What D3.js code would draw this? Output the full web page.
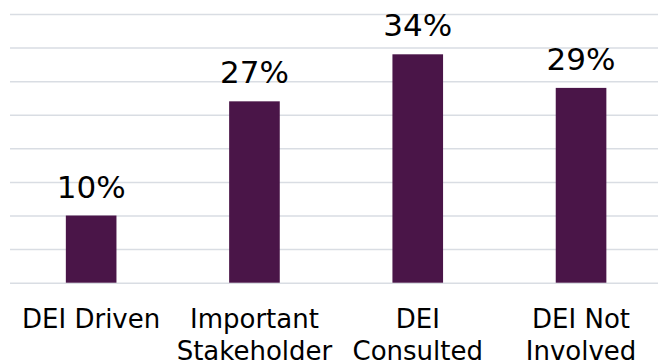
<!DOCTYPE html>
<html>
<head>
<meta charset="utf-8">
<script src="https://cdn.jsdelivr.net/npm/d3@7"></script>
<style>
  body { margin: 0; background: #fff; }
  svg text { font-family: "DejaVu Sans", Verdana, sans-serif; fill: #000; }
</style>
</head>
<body>
<svg id="chart" width="658" height="362"></svg>
<script>
// Chart data
const categories = ["DEI Driven", "Important Stakeholder", "DEI Consulted", "DEI Not Involved"];
const categoryLines = [["DEI Driven"], ["Important", "Stakeholder"], ["DEI", "Consulted"], ["DEI Not", "Involved"]];
const values = [10, 27, 34, 29];
const gridTicks = [0, 5, 10, 15, 20, 25, 30, 35, 40];

const svg = d3.select("#chart");
const width = +svg.attr("width");

const x = d3.scaleBand()
  .domain(categories)
  .range([9.5, 662.7])
  .paddingInner(0.69)
  .paddingOuter(0.345);

const y = d3.scaleLinear()
  .domain([0, 40])
  .range([282.7, 14]);

// Gridlines
const grid = svg.append("g")
  .attr("transform", "translate(10,0)")
  .call(d3.axisLeft(y).tickValues(gridTicks).tickSize(-(width - 10)).tickFormat(""));
grid.select(".domain").remove();
grid.selectAll("line")
  .attr("stroke", "#d9dde3")
  .attr("stroke-width", 1.5);

// Bars
svg.selectAll(".bar")
  .data(values)
  .enter()
  .append("rect")
  .attr("class", "bar")
  .attr("x", (d, i) => x(categories[i]))
  .attr("width", x.bandwidth())
  .attr("y", d => y(d))
  .attr("height", d => y(0) - y(d))
  .attr("fill", "#4a1548");

// Value labels
svg.selectAll(".val")
  .data(values)
  .enter()
  .append("text")
  .attr("class", "val")
  .attr("x", (d, i) => x(categories[i]) + x.bandwidth() / 2)
  .attr("y", d => y(d) - 18)
  .attr("text-anchor", "middle")
  .style("font-size", "31px")
  .text(d => d + "%");

// Category labels
const cat = svg.selectAll(".cat")
  .data(categoryLines)
  .enter()
  .append("text")
  .attr("class", "cat")
  .attr("text-anchor", "middle")
  .style("font-size", "26px");

cat.selectAll("tspan")
  .data((d, i) => d.map(t => ({ t, i })))
  .enter()
  .append("tspan")
  .attr("x", d => x(categories[d.i]) + x.bandwidth() / 2)
  .attr("y", (d, j) => 328 + j * 31.7)
  .text(d => d.t);
</script>
</body>
</html>
